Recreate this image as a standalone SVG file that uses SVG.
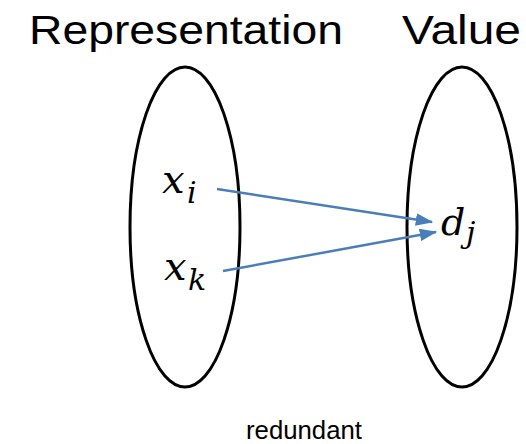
<svg xmlns="http://www.w3.org/2000/svg" width="526" height="444" viewBox="0 0 526 444">
<style>
.title{font-family:"Liberation Sans",Arial,sans-serif;font-size:40px;fill:#000}
.lbl{font-family:"Liberation Sans",Arial,sans-serif;font-size:26px;fill:#000}
.math{font-family:"DejaVu Serif",serif;font-style:italic;fill:#000}
.ell{fill:none;stroke:#000;stroke-width:3}
.conn{stroke:#4A7EBB;stroke-width:2.5;fill:none}
</style>
<defs>
<marker id="ah" markerWidth="7" markerHeight="5" refX="6.5" refY="2.5" orient="auto" markerUnits="strokeWidth">
<path d="M0,0 L7,2.5 L0,5 Z" fill="#4A7EBB"/>
</marker>
</defs>
<text class="title" x="29" y="44" textLength="314" lengthAdjust="spacingAndGlyphs">Representation</text>
<text class="title" x="402" y="44" textLength="119" lengthAdjust="spacingAndGlyphs">Value</text>
<g id="representation">
<ellipse class="ell" cx="185" cy="227" rx="55" ry="160"/>
</g>
<g id="value">
<ellipse class="ell" cx="462" cy="227" rx="55" ry="160"/>
</g>
<g id="xi">
<text class="math" x="162" y="193" font-size="40">x</text>
<text class="math" x="187" y="203" font-size="30">i</text>
</g>
<g id="xk">
<text class="math" x="164" y="280" font-size="40">x</text>
<text class="math" x="188" y="290" font-size="30">k</text>
</g>
<g id="dj">
<text class="math" x="441" y="235" font-size="38">d</text>
<text class="math" x="466" y="243" font-size="30">j</text>
</g>
<g id="connectors">
<line class="conn" x1="217" y1="189" x2="432" y2="222" marker-end="url(#ah)"/>
<line class="conn" x1="223" y1="271" x2="436" y2="232" marker-end="url(#ah)"/>
</g>
<text class="lbl" x="246" y="439" textLength="116" lengthAdjust="spacingAndGlyphs">redundant</text>
</svg>
